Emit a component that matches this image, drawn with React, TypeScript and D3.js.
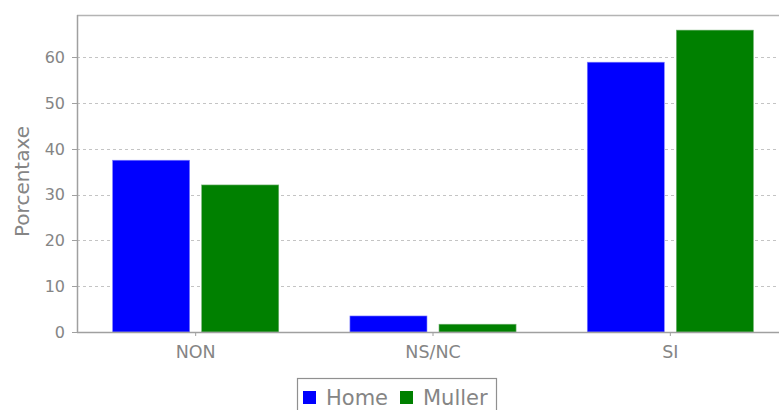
import React from "react";
import * as d3 from "d3";

const categories = ["NON", "NS/NC", "SI"];
const seriesNames = ["Home", "Muller"];
const homeValues = [37.5, 3.5, 58.9];
const mullerValues = [32.1, 1.7, 65.9];
const seriesColors = ["#0000ff", "#008000"];
const yTicks = [0, 10, 20, 30, 40, 50, 60];
const yLabel = "Porcentaxe";

const W = 779;
const H = 410;
const left = 77;
const top = 15;
const bottom = 332;
const font = "DejaVu Sans, sans-serif";
const textColor = "#858585";

export default function App() {
  const x0 = d3.scaleBand<string>().domain(categories).range([left, 789]).paddingInner(0.3).paddingOuter(0.15);
  const x1 = d3.scaleBand<string>().domain(seriesNames).range([0, x0.bandwidth()]).paddingInner(0.135);
  const y = d3.scaleLinear().domain([0, 69.2]).range([bottom, top]);
  const values = [homeValues, mullerValues];

  return (
    <svg width={W} height={H} style={{ position: "absolute", left: 0, top: 0, background: "#fff" }} fontFamily={font}>
      {yTicks.filter((t) => t > 0).map((t) => (
        <line key={t} x1={left} x2={W} y1={Math.round(y(t)) + 0.5} y2={Math.round(y(t)) + 0.5} stroke="#c4c4c4" strokeWidth={1} strokeDasharray="3,3" />
      ))}
      <line x1={left} x2={W} y1={top + 0.5} y2={top + 0.5} stroke="#b4b4b4" strokeWidth={1.5} />
      {categories.map((c, ci) =>
        seriesNames.map((s, si) => {
          const v = values[si][ci];
          const bx = (x0(c) as number) + (x1(s) as number);
          return (
            <rect key={c + s} x={bx} y={y(v)} width={x1.bandwidth()} height={bottom - y(v)} fill={seriesColors[si]} stroke={si === 0 ? "#8080ff" : "#70b070"} strokeWidth={0.6} />
          );
        })
      )}
      <line x1={left + 0.5} x2={left + 0.5} y1={top} y2={bottom + 1} stroke="#a0a0a0" strokeWidth={1.5} />
      {yTicks.map((t) => (
        <g key={t}>
          <line x1={72} x2={left} y1={Math.round(y(t)) + 0.5} y2={Math.round(y(t)) + 0.5} stroke="#a0a0a0" />
          <text x={65} y={y(t)} dy="0.36em" textAnchor="end" fontSize={16} fill={textColor}>{t}</text>
        </g>
      ))}
      <text transform={`translate(29,${(top + bottom) / 2 + 8}) rotate(-90)`} textAnchor="middle" fontSize={20} fill={textColor}>{yLabel}</text>
      <line x1={left} x2={W} y1={bottom + 0.5} y2={bottom + 0.5} stroke="#a0a0a0" strokeWidth={1.5} />
      {categories.map((c) => {
        const cx = (x0(c) as number) + x0.bandwidth() / 2;
        return (
          <g key={c}>
            <line x1={cx} x2={cx} y1={bottom} y2={bottom + 4} stroke="#a0a0a0" />
            <text x={cx} y={358} textAnchor="middle" fontSize={17.5} fill={textColor}>{c}</text>
          </g>
        );
      })}
      <rect x={297.5} y={378.5} width={199} height={40} fill="#fff" stroke="#909090" strokeWidth={1.2} />
      <rect x={303} y={391} width={13} height={13} fill={seriesColors[0]} />
      <text x={326} y={404.5} fontSize={21} fill={textColor}>{seriesNames[0]}</text>
      <rect x={400} y={391} width={13} height={13} fill={seriesColors[1]} />
      <text x={423} y={404.5} fontSize={21} fill={textColor}>{seriesNames[1]}</text>
    </svg>
  );
}
